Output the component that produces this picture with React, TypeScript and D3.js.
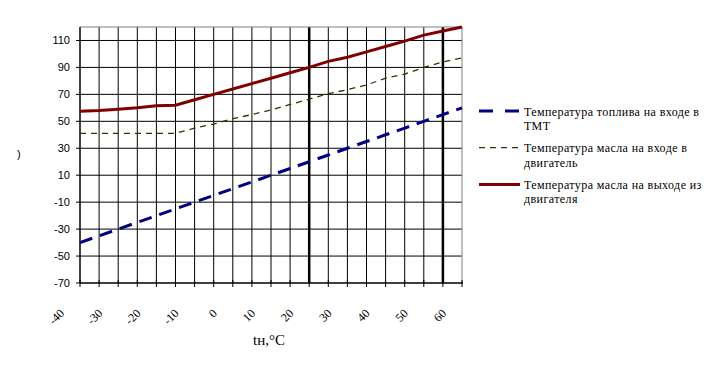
import React from "react";
import * as d3 from "d3";

const WIDTH = 712;
const HEIGHT = 371;
const PLOT = { left: 80, right: 462, top: 27, bottom: 283 };

// ambient temperature, deg C
const temps = [-40, -35, -30, -25, -20, -15, -10, -5, 0, 5, 10, 15, 20, 25, 30, 35, 40, 45, 50, 55, 60];
const fuelIn = [-40, -35, -30, -25, -20, -15, -10, -5, 0, 5, 10, 15, 20, 25, 30, 35, 40, 45, 50, 55, 60];
const oilIn = [41, 41, 41, 41, 41, 41, 45, 48, 52, 55, 58.5, 62.5, 66.5, 70.5, 73.5, 77, 82, 85, 90, 94, 97];
const oilOut = [57.5, 58, 59, 60, 61.5, 62, 66, 70, 74, 78, 82, 86, 90, 94.5, 97.5, 101.5, 105.5, 109.5, 114, 117, 120];

const xLabels = [-40, -30, -20, -10, 0, 10, 20, 30, 40, 50, 60];
const yTicks = [-70, -50, -30, -10, 10, 30, 50, 70, 90, 110];
const thickX = [20, 55];

const seriesNames = [
  ["Температура топлива на входе в", "ТМТ"],
  ["Температура масла на входе в", "двигатель"],
  ["Температура масла на выходе из", "двигателя"],
];

const App = () => {
  const x = d3.scaleLinear().domain([-40, 60]).range([PLOT.left, PLOT.right]);
  const y = d3.scaleLinear().domain([-70, 120]).range([PLOT.bottom, PLOT.top]);

  const line = d3
    .line<number>()
    .x((_, i) => x(temps[i]))
    .y((d) => y(d));

  const styles = [
    { data: fuelIn, stroke: "#000080", width: 3, dash: "13,8" },
    { data: oilIn, stroke: "#333300", width: 1.3, dash: "6,5" },
    { data: oilOut, stroke: "#800000", width: 3, dash: undefined },
  ];

  const gridX = temps.filter((t) => t > -40 && t < 60);

  return (
    <svg
      width={WIDTH}
      height={HEIGHT}
      style={{ position: "absolute", left: 0, top: 0, background: "#fff" }}
    >
      {/* grid */}
      {yTicks
        .filter((v) => v > -70)
        .map((v) => (
          <line key={"gy" + v} x1={PLOT.left} x2={PLOT.right} y1={y(v)} y2={y(v)} stroke="#000" strokeWidth={1} />
        ))}
      {gridX.map((t) => (
        <line
          key={"gx" + t}
          x1={x(t)}
          x2={x(t)}
          y1={PLOT.top}
          y2={PLOT.bottom}
          stroke="#000"
          strokeWidth={thickX.includes(t) ? 2.5 : 1}
        />
      ))}
      {/* plot border */}
      <line x1={PLOT.left} x2={PLOT.right} y1={PLOT.top} y2={PLOT.top} stroke="#808080" />
      <line x1={PLOT.right} x2={PLOT.right} y1={PLOT.top} y2={PLOT.bottom} stroke="#808080" />

      {/* axes */}
      <line x1={PLOT.left} x2={PLOT.left} y1={PLOT.top} y2={PLOT.bottom} stroke="#000" strokeWidth={1.5} />
      <line x1={PLOT.left} x2={PLOT.right + 1} y1={PLOT.bottom} y2={PLOT.bottom} stroke="#000" strokeWidth={1.5} />
      {yTicks.map((v) => (
        <g key={"yt" + v}>
          <line x1={PLOT.left - 4} x2={PLOT.left} y1={y(v)} y2={y(v)} stroke="#000" />
          <text
            x={70}
            y={y(v) + 4}
            textAnchor="end"
            fontFamily="Liberation Sans, Arial, sans-serif"
            fontSize={11}
            fill="#000"
          >
            {v}
          </text>
        </g>
      ))}
      {temps.map((t) => (
        <line key={"xt" + t} x1={x(t)} x2={x(t)} y1={PLOT.bottom - 3} y2={PLOT.bottom + 4} stroke="#000" />
      ))}
      {xLabels.map((t) => (
        <text
          key={"xl" + t}
          transform={`translate(${x(t) - 15},${PLOT.bottom + 31}) rotate(-45)`}
          textAnchor="end"
          fontFamily="Liberation Serif, Times New Roman, serif"
          fontSize={12}
          fill="#000"
        >
          {t}
        </text>
      ))}

      {/* axis titles */}
      <text x={17} y={158} fontFamily="Liberation Sans, Arial, sans-serif" fontSize={11} fill="#000">
        )
      </text>
      <text x={253} y={345} fontFamily="Liberation Serif, Times New Roman, serif" fontSize={15} fill="#000">
        tн,°C
      </text>

      {/* series */}
      {styles.map((s, i) => (
        <path
          key={"s" + i}
          d={line(s.data) || ""}
          fill="none"
          stroke={s.stroke}
          strokeWidth={s.width}
          strokeDasharray={s.dash}
        />
      ))}

      {/* legend */}
      {styles.map((s, i) => {
        const ly = 111 + i * 36.7;
        return (
          <g key={"lg" + i}>
            <line
              x1={479}
              x2={520}
              y1={ly}
              y2={ly}
              stroke={s.stroke}
              strokeWidth={s.width}
              strokeDasharray={i === 0 ? "14,12" : s.dash}
            />
            {seriesNames[i].map((txt, j) => (
              <text
                key={j}
                x={524}
                y={ly + 4.5 + j * 14.5}
                fontFamily="Liberation Serif, Times New Roman, serif"
                fontSize={12}
                letterSpacing={0.4}
                fill="#000"
              >
                {txt}
              </text>
            ))}
          </g>
        );
      })}
    </svg>
  );
};

export default App;
